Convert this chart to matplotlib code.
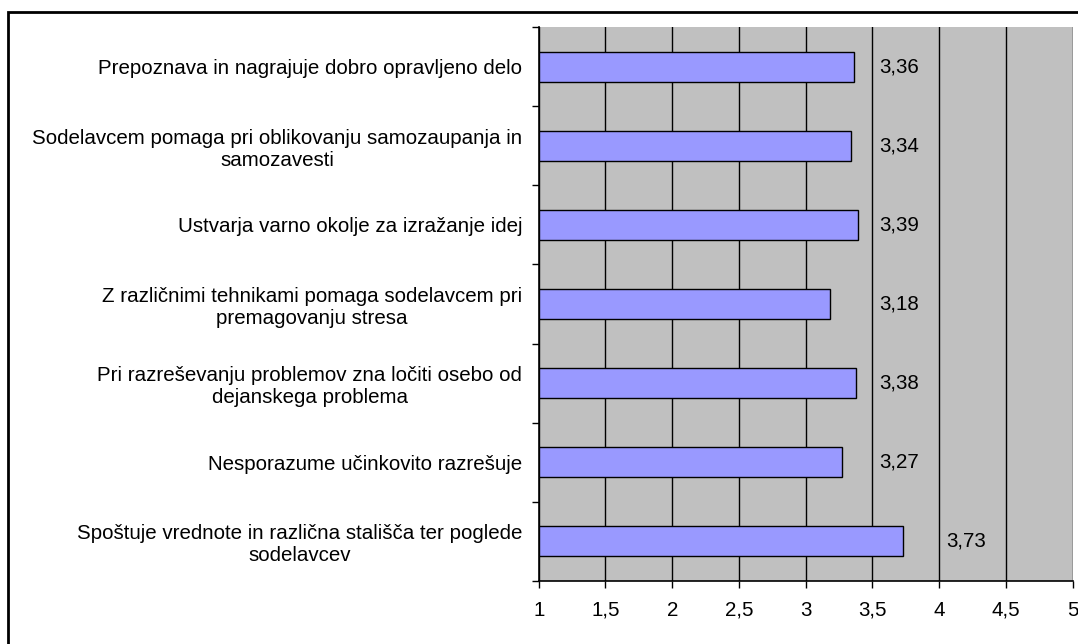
import numpy as np
import matplotlib.pyplot as plt
from matplotlib.patches import Rectangle

# podatki
trditve = [
    'Prepoznava in nagrajuje dobro opravljeno delo',
    'Sodelavcem pomaga pri oblikovanju samozaupanja in\nsamozavesti',
    'Ustvarja varno okolje za izražanje idej',
    'Z različnimi tehnikami pomaga sodelavcem pri\npremagovanju stresa',
    'Pri razreševanju problemov zna ločiti osebo od\ndejanskega problema',
    'Nesporazume učinkovito razrešuje',
    'Spoštuje vrednote in različna stališča ter poglede\nsodelavcev',
]
ocene = [3.36, 3.34, 3.39, 3.18, 3.38, 3.27, 3.73]
x_ticks = [1, 1.5, 2, 2.5, 3, 3.5, 4, 4.5, 5]
x_labels = ['1', '1,5', '2', '2,5', '3', '3,5', '4', '4,5', '5']

plt.rcParams['font.family'] = ['Liberation Sans', 'DejaVu Sans']
fs = 14.8

fig = plt.figure(figsize=(10.78, 6.44), dpi=100)
ax = fig.add_axes([538.7/1078, 1-580.7/644, (1072.7-538.7)/1078, (580.7-27.3)/644])

n = len(trditve)
pos = np.arange(n)
ax.barh(pos, np.array(ocene) - 1, left=1, height=0.38, color='#9999FF',
        edgecolor='black', linewidth=1, zorder=3)

# oznake vrednosti desno od naslednje mrezne crte
for i, v in enumerate(ocene):
    xl = np.ceil(v*2)/2 + 0.05
    ax.text(xl, i, f'{v:.2f}'.replace('.', ','), va='center', ha='left',
            fontsize=fs, zorder=4)

ax.set_xlim(1, 5)
ax.set_ylim(n - 0.5, -0.5)
ax.set_facecolor('#C0C0C0')
ax.set_xticks(x_ticks)
ax.set_xticklabels(x_labels, fontsize=fs)
ax.set_yticks(pos)
ax.set_yticklabels(trditve, fontsize=fs, multialignment='center')
ax.set_yticks(np.arange(n + 1) - 0.5, minor=True)
ax.tick_params(axis='y', which='major', length=0, pad=12)
ax.tick_params(axis='y', which='minor', length=5, width=1, direction='out')
ax.tick_params(axis='x', length=5, width=1, direction='out', pad=9.5)
ax.grid(axis='x', color='black', linewidth=1, zorder=1)
ax.set_axisbelow(True)
for s in ['top', 'right']:
    ax.spines[s].set_visible(False)
ax.spines['left'].set_linewidth(1.2)
ax.spines['bottom'].set_linewidth(1.2)

# okvir grafikona
fig.patches.append(Rectangle((8/1078, -0.1), 1.2, 1 - 11.5/644 + 0.1,
                             transform=fig.transFigure, fill=False,
                             edgecolor='black', linewidth=2))

fig.savefig('out.png', dpi=100)
